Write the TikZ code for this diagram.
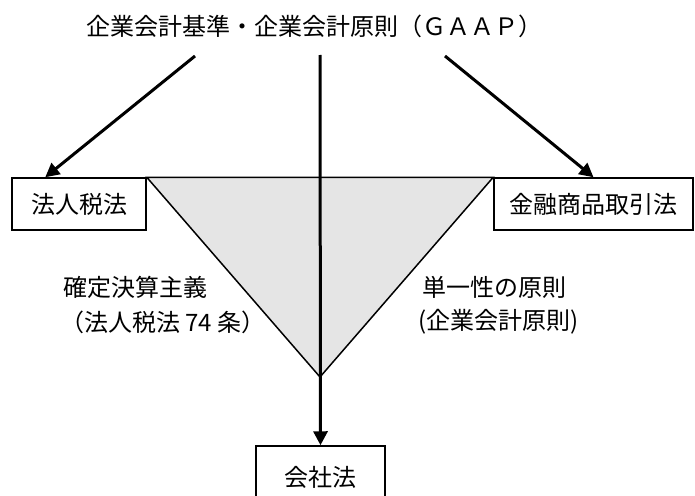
\documentclass[tikz,border=0pt]{standalone}
\usepackage{fontspec}
\setmainfont{Noto Sans CJK JP}
\usetikzlibrary{arrows.meta}
\begin{document}
\begin{tikzpicture}[x=1pt,y=-1pt,
  txt/.style={font=\fontsize{24}{29}\selectfont, inner sep=0pt},
  lawbox/.style={draw, line width=1.5pt, font=\fontsize{24}{29}\selectfont, inner sep=0pt},
  edgeline/.style={line width=1.5pt},
  arr/.style={line width=3pt, -{Triangle[length=14pt,width=14pt]}}]
\useasboundingbox (0,0) rectangle (695,495);
\clip (0,0) rectangle (695,495);
% title
\node[txt, anchor=west] (title) at (86,26) {企業会計基準・企業会計原則（ＧＡＡＰ）};
% boxes
\node[lawbox, minimum width=134pt, minimum height=52pt] (hz) at (79,204) {法人税法};
\node[lawbox, minimum width=199pt, minimum height=52pt] (kin) at (593.5,204) {金融商品取引法};
\node[lawbox, minimum width=129pt, minimum height=62pt] (ks) at (320.5,477) {会社法};
% triangle
\coordinate (apex) at (320,377);
\fill[black!10] (hz.north east) -- (kin.north west) -- (apex) -- cycle;
\draw[edgeline, line join=miter] (hz.north east) -- (kin.north west) -- (apex) -- cycle;
% labels
\node[txt, anchor=west] (l1) at (63,287) {確定決算主義};
\node[txt, anchor=west] (l2) at (60,322) {（法人税法 74 条）};
\node[txt, anchor=west] (r1) at (422,287) {単一性の原則};
\node[txt, anchor=west] (r2) at (418,322) {(企業会計原則)};
% arrows
\coordinate (sL) at (195,56);
\coordinate (sC) at (320,55);
\coordinate (sR) at (445,56);
\draw[arr] (sL) -- ([xshift=34pt]hz.north west);
\draw[arr] (sR) -- (kin.north);
\draw[arr] (sC) -- (ks.north);
\end{tikzpicture}
\end{document}
